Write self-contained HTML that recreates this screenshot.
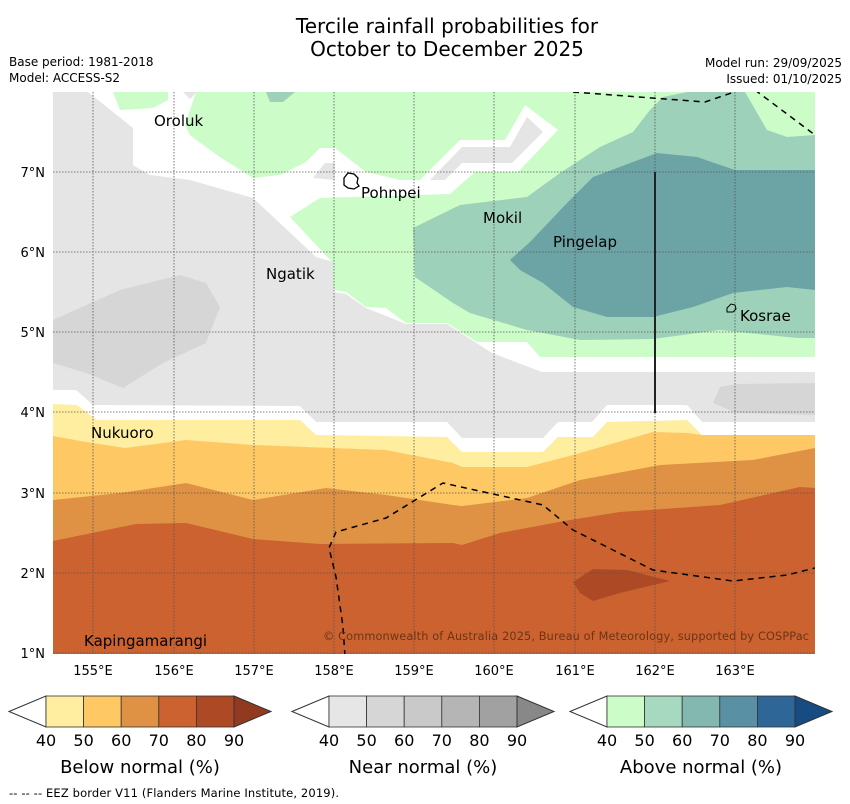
<!DOCTYPE html>
<html><head><meta charset="utf-8">
<style>
body{margin:0;background:#fff;}
svg{display:block;font-family:"DejaVu Sans","Liberation Sans",sans-serif;}
</style></head>
<body>
<svg id="chart" width="850" height="804" viewBox="0 0 850 804">
<text x="447" y="33" font-size="20" text-anchor="middle">Tercile rainfall probabilities for</text>
<text x="447" y="56" font-size="20" text-anchor="middle">October to December 2025</text>
<text x="9" y="66" font-size="12">Base period: 1981-2018</text>
<text x="9" y="82" font-size="12">Model: ACCESS-S2</text>
<text x="842" y="67" font-size="12" text-anchor="end">Model run: 29/09/2025</text>
<text x="842" y="83" font-size="12" text-anchor="end">Issued: 01/10/2025</text>

<defs><clipPath id="mapclip"><rect x="53" y="92" width="762" height="562"/></clipPath></defs>
<g clip-path="url(#mapclip)">
<rect x="53" y="92" width="762" height="562" fill="#ffffff"/>
<polygon fill="#e5e5e5" points="53,92 88,92 123,120 133,128 133,165 150,175 190,180 253,198 316,257 333,262 333,292 346,294 366,308 406,324 447,324 492,353 542,372 815,372 815,422 702,422 687,405 607,405 592,422 558,422 543,438 462,438 447,422 316,422 300,406 93,405 76,390 53,390"/>
<polygon fill="#e5e5e5" points="183,92 197,92 190,99"/>
<polygon fill="#d6d6d6" points="53,320 120,290 180,275 206,283 220,307 206,343 163,363 123,388 86,373 53,363"/>
<polygon fill="#d6d6d6" points="713,403 720,387 737,384 815,383 815,415 737,413"/>
<polygon fill="#ccfcc8" points="196,92 815,92 815,357 540,357 527,342 477,342 447,323 406,323 386,308 366,307 346,292 333,290 333,263 290,217 190,135 185,125"/>
<polygon fill="#ccfcc8" points="113,92 168,92 168,100 153,108 120,110"/>
<polygon fill="#ffffff" points="185,132 220,157 253,178 280,175 306,162 320,148 335,148 366,172 400,180 420,180 460,140 505,140 525,105 558,130 518,172 475,172 450,194 320,198 290,217"/>
<polygon fill="#e5e5e5" points="313,178 325,163 335,163 335,180"/>
<polygon fill="#e5e5e5" points="430,180 462,147 510,147 527,117 543,132 512,163 462,163 445,180"/>
<polygon fill="#9dd1b9" points="266,92 295,92 283,102 270,102"/>
<polygon fill="#9dd1b9" points="413,228 460,205 527,197 560,173 600,147 633,132 650,110 663,97 687,92 745,92 767,130 787,137 815,135 815,338 797,338 720,330 653,339 580,340 527,330 470,313 453,303 415,277"/>
<polygon fill="#6ca4a6" points="510,260 530,242 567,203 593,177 657,153 697,157 735,170 815,170 815,290 787,287 733,293 693,307 653,317 607,317 573,307 543,283 520,270"/>
<polygon fill="#ffeda0" points="53,404 77,405 97,420 300,420 316,435 447,437 462,452 543,452 558,437 593,437 607,422 687,420 702,435 815,435 815,660 53,660"/>
<polygon fill="#fec965" points="53,436 86,442 125,448 186,440 253,445 386,450 453,463 462,467 527,467 573,455 653,432 687,433 702,435 815,435 815,660 53,660"/>
<polygon fill="#df9144" points="53,500 120,493 186,483 253,500 326,488 386,495 453,505 462,506 527,498 580,480 660,465 753,460 815,448 815,660 53,660"/>
<polygon fill="#cb6230" points="53,541 136,524 186,523 253,539 320,544 453,543 462,545 500,533 570,520 620,512 720,505 800,487 815,488 815,660 53,660"/>
<polygon fill="#ad4a25" points="573,582 593,569 627,570 670,581 620,593 593,601 580,593"/>
<g stroke="#555" stroke-width="0.8" stroke-dasharray="1.5,1.5">
<line x1="93" y1="92" x2="93" y2="654"/><line x1="174" y1="92" x2="174" y2="654"/><line x1="254" y1="92" x2="254" y2="654"/><line x1="334" y1="92" x2="334" y2="654"/><line x1="414" y1="92" x2="414" y2="654"/><line x1="494" y1="92" x2="494" y2="654"/><line x1="575" y1="92" x2="575" y2="654"/><line x1="655" y1="92" x2="655" y2="654"/><line x1="735" y1="92" x2="735" y2="654"/>
<line x1="53" y1="172" x2="815" y2="172"/><line x1="53" y1="252" x2="815" y2="252"/><line x1="53" y1="332" x2="815" y2="332"/><line x1="53" y1="412" x2="815" y2="412"/><line x1="53" y1="493" x2="815" y2="493"/><line x1="53" y1="573" x2="815" y2="573"/><line x1="53" y1="653" x2="815" y2="653"/>
</g>
<g fill="none" stroke="#000" stroke-width="1.5" stroke-dasharray="6,5">
<polyline points="573,92 705,102 740,90"/>
<polyline points="755,90 815,135"/>
<polyline points="345,656 343,627 336,577 329,548 336,532 386,518 443,483 543,505 573,530 653,570 733,581 787,575 815,568"/>
</g>
<line x1="655" y1="172" x2="655" y2="413" stroke="#222" stroke-width="2"/>
<path d="M344,178 l4,-5 l6,1 l4,4 l-1,5 l2,3 l-5,3 l-6,-1 l-4,-3 z" fill="none" stroke="#000" stroke-width="1.3"/>
<path d="M727,308 l4,-4 l4,1 l1,4 l-3,3 l-6,0 z" fill="none" stroke="#000" stroke-width="1"/>
<g font-size="15" fill="#000">
<text x="154" y="126">Oroluk</text>
<text x="361" y="198">Pohnpei</text>
<text x="483" y="223">Mokil</text>
<text x="553" y="247">Pingelap</text>
<text x="266" y="279">Ngatik</text>
<text x="740" y="321">Kosrae</text>
<text x="91" y="438">Nukuoro</text>
<text x="84" y="646">Kapingamarangi</text>
</g>
<text x="809" y="640" font-size="11.3" fill="#6b3515" text-anchor="end" textLength="486">© Commonwealth of Australia 2025, Bureau of Meteorology, supported by COSPPac</text>
</g>
<g font-size="13" text-anchor="middle">
<text x="93" y="675">155°E</text><text x="174" y="675">156°E</text><text x="254" y="675">157°E</text><text x="334" y="675">158°E</text><text x="414" y="675">159°E</text><text x="494" y="675">160°E</text><text x="575" y="675">161°E</text><text x="655" y="675">162°E</text><text x="735" y="675">163°E</text>
</g>
<g font-size="13" text-anchor="end">
<text x="45" y="177">7°N</text><text x="45" y="257">6°N</text><text x="45" y="337">5°N</text><text x="45" y="417">4°N</text><text x="45" y="498">3°N</text><text x="45" y="578">2°N</text><text x="45" y="658">1°N</text>
</g>
<g id="cbars"></g>
<text x="9" y="797" font-size="11.5" textLength="330">--  --  -- EEZ border V11 (Flanders Marine Institute, 2019).</text>
</svg>
<script>
const cbTicks = ["40","50","60","70","80","90"];
const cbTitles = ["Below normal (%)","Near normal (%)","Above normal (%)"];
const cbColors = [
 ["#ffeda0","#fec965","#df9144","#cb6230","#ad4a25","#923a20"],
 ["#e6e6e6","#d6d6d6","#c9c9c9","#b5b5b5","#a1a1a1","#888888"],
 ["#ccfcc8","#a6d9bf","#82b8b0","#5a90a3","#2f6698","#164c82"]
];
const cbX = [9,292,570];
const ns="http://www.w3.org/2000/svg";
const g=document.getElementById('cbars');
for(let b=0;b<3;b++){
  const x0=cbX[b], y0=696, h=31, w=37.6;
  const p=document.createElementNS(ns,'polygon');
  p.setAttribute('points',`${x0},${y0+h/2} ${x0+37},${y0} ${x0+37},${y0+h}`);
  p.setAttribute('fill','#fff');p.setAttribute('stroke','#333');
  
  
  g.appendChild(p);
  for(let i=0;i<5;i++){
    const r=document.createElementNS(ns,'rect');
    r.setAttribute('x',x0+37+i*w);r.setAttribute('y',y0);r.setAttribute('width',w);r.setAttribute('height',h);
    r.setAttribute('fill',cbColors[b][i]);r.setAttribute('stroke','#333');r.setAttribute('stroke-width','0.8');
    
    
    g.appendChild(r);
  }
  const xe=x0+37+5*w;
  const a=document.createElementNS(ns,'polygon');
  a.setAttribute('points',`${xe},${y0} ${xe+37},${y0+h/2} ${xe},${y0+h}`);
  a.setAttribute('fill',cbColors[b][5]);a.setAttribute('stroke','#333');
  
  
  g.appendChild(a);
  cbTicks.forEach((t,i)=>{
    const tx=document.createElementNS(ns,'text');
    tx.setAttribute('x',x0+37+i*w);tx.setAttribute('y',746);tx.setAttribute('font-size','16');tx.setAttribute('text-anchor','middle');
    tx.textContent=t;
    
    
    g.appendChild(tx);
  });
  const tt=document.createElementNS(ns,'text');
  tt.setAttribute('x',x0+131);tt.setAttribute('y',773);tt.setAttribute('font-size','18');tt.setAttribute('text-anchor','middle');
  tt.textContent=cbTitles[b];
  
  
  g.appendChild(tt);
}
</script>
</body></html>
